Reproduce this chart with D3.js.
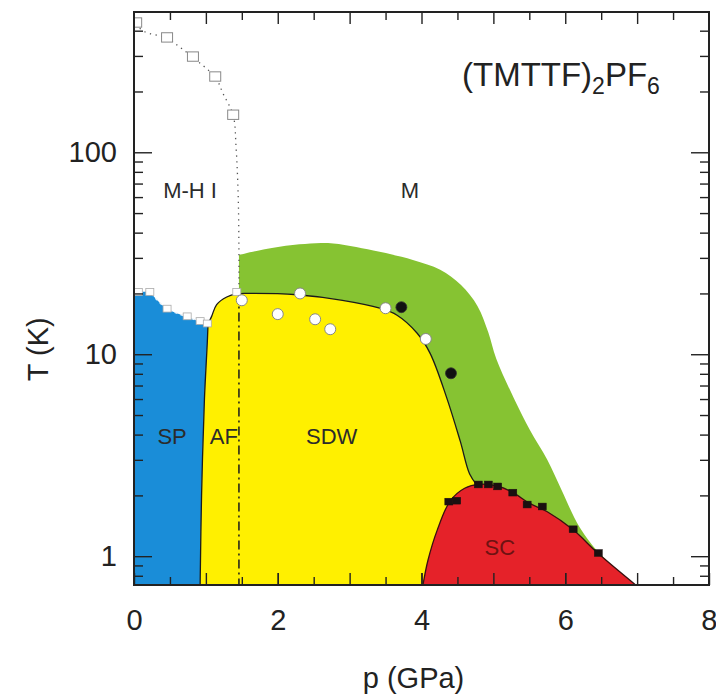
<!DOCTYPE html>
<html>
<head>
<meta charset="utf-8">
<script src="https://cdn.jsdelivr.net/npm/d3@7"></script>
<style>
  body { margin: 0; background: #fff; }
  svg { display: block; }
  text { font-family: "Liberation Sans", Arial, sans-serif; }
</style>
</head>
<body>
<svg id="chart" width="716" height="695"></svg>
<script>
// ---- axis ticks ----
const pLabelTicks = [0, 2, 4, 6, 8];
const pMajorTicks = [1, 2, 3, 4, 5, 6, 7];
const pMinorTicks = [0.5, 1.5, 2.5, 3.5, 4.5, 5.5, 6.5, 7.5];
const tLabelTicks = [1, 10, 100];
const tMinorTicks = [0.8, 0.9, 2, 3, 4, 5, 6, 7, 8, 9, 20, 30, 40, 50, 60, 70, 80, 90, 200, 300, 400];

// ---- phase boundaries, [p (GPa), T (K)] ----
const spTop = [[0, 20.2], [0.22, 20.2], [0.3, 18.9], [0.46, 16.8], [0.74, 15.3], [0.92, 14.5], [1.03, 14.1]];
const spAfLine = [[1.03, 14.1], [1.02, 11.5], [0.98, 6], [0.94, 2], [0.92, 0.72]];
const sdwLine = [[1.03, 14.1], [1.08, 15.4], [1.15, 17.6], [1.29, 19.2], [1.43, 19.9], [1.6, 20], [2.27, 19.7],
                 [2.9, 18.5], [3.42, 16.9], [3.66, 15.6], [3.94, 12.7], [4.12, 10.1], [4.35, 6.1],
                 [4.54, 3.7], [4.67, 2.55], [4.77, 2.25]];
const greenOutline = [[1.46, 31], [1.8, 33], [2.3, 35], [2.7, 35.5], [3.33, 32.6], [3.88, 29.3], [4.26, 26.2],
                      [4.55, 22], [4.78, 17.3], [4.93, 12.8], [5.04, 9.5], [5.3, 5.9], [5.51, 4.2],
                      [5.75, 3.0], [5.95, 2.12], [6.2, 1.39], [6.48, 1.03], [6.98, 0.72]];
const scOutline = [[4.02, 0.72], [4.09, 0.955], [4.22, 1.35], [4.4, 1.88], [4.6, 2.17], [4.8, 2.27],
                   [5.06, 2.22], [5.27, 2.07], [5.5, 1.83], [5.75, 1.66], [6.11, 1.35], [6.46, 1.03], [6.98, 0.72]];
const mhiLine = [[0.02, 430], [0.15, 395], [0.46, 367], [0.64, 331], [0.82, 295], [1.13, 235], [1.24, 195],
                 [1.38, 152], [1.42, 106], [1.45, 60], [1.46, 32], [1.46, 20]];
const afSdwP = 1.46;

// ---- measured points ----
const mhiSquares = [[0.03, 435], [0.46, 367], [0.82, 295], [1.13, 235], [1.38, 152]];
const spSquares = [[0.06, 20.2], [0.22, 20.2], [0.46, 16.7], [0.74, 15.3], [0.92, 14.5], [1.02, 14.1], [1.43, 20.2]];
const openCircles = [[1.5, 18.5], [2.0, 15.8], [2.31, 20], [2.52, 14.9], [2.73, 13.3], [3.5, 16.9], [4.06, 11.9]];
const filledCircles = [[3.72, 17.1], [4.41, 8.05]];
const scSquares = [[4.38, 1.85], [4.49, 1.87], [4.79, 2.25], [4.93, 2.25], [5.06, 2.2], [5.27, 2.05],
                   [5.47, 1.79], [5.68, 1.75], [6.11, 1.35], [6.46, 1.03]];

// ---- phase labels ----
const phaseLabels = [
  { text: "M-H I", p: 0.78, T: 65 },
  { text: "M", p: 3.84, T: 65 },
  { text: "SP", p: 0.53, T: 3.93 },
  { text: "AF", p: 1.25, T: 3.93 },
  { text: "SDW", p: 2.75, T: 3.93 },
  { text: "SC", p: 5.09, T: 1.11, sc: true }
];

const svg = d3.select("#chart");
const x = d3.scaleLinear().domain([0, 8]).range([134, 709]);
const y = d3.scaleLog().domain([0.72, 495]).range([585, 12]);
const [x0, x1] = x.range();
const [yb, yt] = y.range();

svg.append("clipPath").attr("id", "plot-clip")
  .append("rect").attr("x", x0).attr("y", yt).attr("width", x1 - x0).attr("height", yb - yt);

const g = svg.append("g").attr("clip-path", "url(#plot-clip)");
const smooth = d3.line().x(d => x(d[0])).y(d => y(d[1])).curve(d3.curveCatmullRom.alpha(0.5));
const straight = d3.line().x(d => x(d[0])).y(d => y(d[1]));
const cont = path => path.replace(/^M/, "L");
const Tmin = y.domain()[0];

// metallic fluctuation region (green)
g.append("path")
  .attr("d", smooth(greenOutline) + `L${x(afSdwP)},${y(Tmin)}Z`)
  .attr("fill", "#86c332");

// AF + SDW (yellow)
g.append("path")
  .attr("d", `M${x(spAfLine[spAfLine.length - 1][0])},${y(Tmin)}` +
             cont(smooth(spAfLine.slice().reverse())) + cont(smooth(sdwLine)) +
             `L${x(sdwLine[sdwLine.length - 1][0])},${y(Tmin)}Z`)
  .attr("fill", "#fff000");

// spin-Peierls (blue)
g.append("path")
  .attr("d", `M${x(0)},${y(Tmin)}` + cont(smooth(spTop)) + cont(smooth(spAfLine)) + "Z")
  .attr("fill", "#1a8dd8");

// superconductivity (red)
g.append("path")
  .attr("d", smooth(scOutline) + "Z")
  .attr("fill", "#e52229");

// boundary lines
g.append("path").attr("d", smooth(spAfLine)).attr("fill", "none").attr("stroke", "#1a1a1a").attr("stroke-width", 1.3);
g.append("path").attr("d", smooth(sdwLine)).attr("fill", "none").attr("stroke", "#1a1a1a").attr("stroke-width", 1.3);
g.append("path").attr("d", smooth(scOutline)).attr("fill", "none").attr("stroke", "#3a1010").attr("stroke-width", 1.3);
g.append("path").attr("d", smooth(spTop)).attr("fill", "none").attr("stroke", "#e8f2fa")
  .attr("stroke-width", 1.4).attr("stroke-dasharray", "3,3");
g.append("path").attr("d", smooth(mhiLine)).attr("fill", "none").attr("stroke", "#555")
  .attr("stroke-width", 1.3).attr("stroke-dasharray", "1.3,4.5");
g.append("path").attr("d", straight([[afSdwP, 20], [afSdwP, Tmin]])).attr("fill", "none")
  .attr("stroke", "#1a1a1a").attr("stroke-width", 1.5).attr("stroke-dasharray", "9,4,2,4");

// markers
const sq = (sel, data, s, fill, stroke, sw) => sel.selectAll(null).data(data).enter().append("rect")
  .attr("x", d => x(d[0]) - s / 2).attr("y", d => y(d[1]) - s / 2)
  .attr("width", s).attr("height", s * 0.85)
  .attr("fill", fill).attr("stroke", stroke).attr("stroke-width", sw);

sq(g, mhiSquares, 11, "#fff", "#888", 1);
sq(g, spSquares, 8, "#fff", "#aaa", 0.8);
g.selectAll(null).data(openCircles).enter().append("circle")
  .attr("cx", d => x(d[0])).attr("cy", d => y(d[1])).attr("r", 5.5)
  .attr("fill", "#fff").attr("stroke", "#888").attr("stroke-width", 1);
g.selectAll(null).data(filledCircles).enter().append("circle")
  .attr("cx", d => x(d[0])).attr("cy", d => y(d[1])).attr("r", 5.5)
  .attr("fill", "#111").attr("stroke", "#333").attr("stroke-width", 0.8);
sq(g, scSquares, 8, "#1a1010", "#1a1010", 0.5);

// phase labels
svg.selectAll(null).data(phaseLabels).enter().append("text")
  .attr("x", d => x(d.p)).attr("y", d => y(d.T)).attr("dy", "0.35em")
  .attr("text-anchor", "middle").attr("font-size", 22)
  .attr("fill", d => d.sc ? "#6e1212" : "#2b2b2b")
  .text(d => d.text);

// axes: ticks point inward on all four sides
const axisStyle = sel => {
  sel.select(".domain").remove();
  sel.selectAll(".tick line").attr("stroke", "#222").attr("stroke-width", 1.4);
  sel.selectAll(".tick text").attr("font-size", 29).attr("fill", "#222")
    .attr("font-family", "'Liberation Sans', Arial, sans-serif");
};
const xAxisBottom = (vals, len, fmt) => d3.axisBottom(x).tickValues(vals).tickSize(-len).tickPadding(24).tickFormat(fmt);
const xAxisTop = (vals, len) => d3.axisTop(x).tickValues(vals).tickSize(-len).tickFormat("");
const yAxisLeft = (vals, len, fmt) => d3.axisLeft(y).tickValues(vals).tickSize(-len).tickPadding(17).tickFormat(fmt);
const yAxisRight = (vals, len) => d3.axisRight(y).tickValues(vals).tickSize(-len).tickFormat("");

const xLabelAxis = svg.append("g").attr("transform", `translate(0,${yb})`)
  .call(xAxisBottom(pLabelTicks, 12, d3.format("d"))).call(axisStyle);
// keep the last label inside the window at the right edge
xLabelAxis.selectAll(".tick text").filter(d => d === pLabelTicks[pLabelTicks.length - 1])
  .attr("text-anchor", "end").attr("x", 8);
svg.append("g").attr("transform", `translate(0,${yb})`).call(xAxisBottom(pMajorTicks, 12, "")).call(axisStyle);
svg.append("g").attr("transform", `translate(0,${yb})`).call(xAxisBottom(pMinorTicks, 8, "")).call(axisStyle);
svg.append("g").attr("transform", `translate(0,${yt})`).call(xAxisTop(pMajorTicks, 12)).call(axisStyle);
svg.append("g").attr("transform", `translate(0,${yt})`).call(xAxisTop(pMinorTicks, 8)).call(axisStyle);
svg.append("g").attr("transform", `translate(${x0},0)`).call(yAxisLeft(tLabelTicks, 18, d3.format("d"))).call(axisStyle);
svg.append("g").attr("transform", `translate(${x0},0)`).call(yAxisLeft(tMinorTicks, 9, "")).call(axisStyle);
svg.append("g").attr("transform", `translate(${x1},0)`).call(yAxisRight(tLabelTicks, 18)).call(axisStyle);
svg.append("g").attr("transform", `translate(${x1},0)`).call(yAxisRight(tMinorTicks, 9)).call(axisStyle);

// frame
svg.append("rect").attr("x", x0).attr("y", yt).attr("width", x1 - x0).attr("height", yb - yt)
  .attr("fill", "none").attr("stroke", "#222").attr("stroke-width", 2);

// axis titles
svg.append("text").attr("x", (x0 + x1) / 2 - 8).attr("y", 688).attr("text-anchor", "middle")
  .attr("font-size", 29).attr("fill", "#222").text("p (GPa)");
svg.append("text").attr("transform", `translate(48,${y(10) - 5}) rotate(-90)`).attr("text-anchor", "middle")
  .attr("font-size", 29).attr("fill", "#222").text("T (K)");

// compound name
const title = svg.append("text").attr("x", 462).attr("y", 86).attr("font-size", 33).attr("fill", "#222");
title.append("tspan").text("(TMTTF)");
title.append("tspan").attr("dy", 8).attr("font-size", 23).text("2");
title.append("tspan").attr("dy", -8).text("PF");
title.append("tspan").attr("dy", 8).attr("font-size", 23).text("6");
</script>
</body>
</html>
